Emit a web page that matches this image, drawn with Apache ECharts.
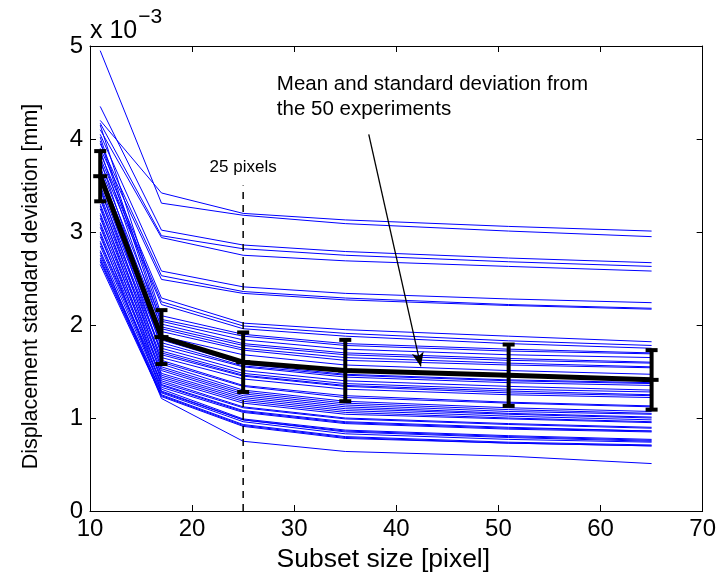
<!DOCTYPE html>
<html>
<head>
<meta charset="utf-8">
<script src="https://cdn.jsdelivr.net/npm/echarts@6/dist/echarts.min.js"></script>
<style>html,body{margin:0;padding:0;background:#fff}#c{width:719px;height:583px}</style>
</head>
<body>
<div id="c"></div>
<script>
// Subset sizes (pixels) at which each experiment was evaluated
const subsetSizes = [11, 17, 25, 35, 51, 65];
// Displacement standard deviation per experiment (units of 1e-3 mm), values at subsetSizes
const experiments = [
  [4.20, 3.42, 3.20, 3.13, 3.06, 3.01],
  [4.95, 3.31, 3.18, 3.09, 3.01, 2.95],
  [4.35, 3.02, 2.86, 2.79, 2.72, 2.67],
  [4.17, 2.96, 2.82, 2.75, 2.68, 2.63],
  [4.10, 2.94, 2.75, 2.69, 2.63, 2.58],
  [4.05, 2.58, 2.41, 2.34, 2.28, 2.24],
  [3.95, 2.53, 2.36, 2.29, 2.22, 2.18],
  [3.90, 2.49, 2.34, 2.27, 2.21, 2.17],
  [3.85, 2.29, 2.02, 1.95, 1.88, 1.82],
  [3.80, 2.25, 1.99, 1.91, 1.83, 1.78],
  [3.75, 2.22, 1.96, 1.88, 1.80, 1.75],
  [4.15, 2.10, 1.90, 1.80, 1.74, 1.70],
  [4.02, 2.06, 1.88, 1.78, 1.72, 1.69],
  [3.70, 2.04, 1.84, 1.74, 1.68, 1.65],
  [3.98, 2.01, 1.80, 1.70, 1.64, 1.60],
  [3.65, 1.98, 1.78, 1.68, 1.62, 1.59],
  [3.88, 1.96, 1.75, 1.65, 1.59, 1.55],
  [3.60, 1.93, 1.73, 1.62, 1.57, 1.54],
  [3.55, 1.88, 1.68, 1.57, 1.51, 1.47],
  [3.78, 1.84, 1.58, 1.47, 1.41, 1.38],
  [3.50, 1.81, 1.56, 1.46, 1.40, 1.37],
  [3.45, 1.78, 1.55, 1.44, 1.38, 1.35],
  [3.68, 1.75, 1.51, 1.40, 1.34, 1.30],
  [3.40, 1.72, 1.48, 1.37, 1.31, 1.28],
  [3.35, 1.70, 1.46, 1.35, 1.29, 1.25],
  [3.58, 1.68, 1.45, 1.34, 1.27, 1.24],
  [3.30, 1.65, 1.42, 1.31, 1.25, 1.22],
  [3.25, 1.62, 1.35, 1.24, 1.17, 1.13],
  [3.48, 1.60, 1.34, 1.22, 1.16, 1.12],
  [3.20, 1.58, 1.30, 1.18, 1.11, 1.07],
  [3.15, 1.55, 1.28, 1.16, 1.09, 1.05],
  [3.38, 1.53, 1.26, 1.14, 1.07, 1.04],
  [3.10, 1.51, 1.24, 1.12, 1.05, 1.01],
  [3.05, 1.48, 1.22, 1.10, 1.04, 1.00],
  [3.28, 1.46, 1.20, 1.08, 1.02, 0.98],
  [3.00, 1.44, 1.18, 1.06, 1.00, 0.96],
  [2.95, 1.42, 1.16, 1.04, 0.99, 0.95],
  [3.18, 1.40, 1.12, 1.00, 0.94, 0.90],
  [2.90, 1.38, 1.11, 0.99, 0.93, 0.89],
  [2.88, 1.36, 1.08, 0.96, 0.90, 0.86],
  [3.08, 1.35, 1.07, 0.95, 0.89, 0.86],
  [2.85, 1.33, 1.06, 0.94, 0.88, 0.85],
  [2.80, 1.31, 0.99, 0.87, 0.81, 0.77],
  [2.98, 1.29, 0.98, 0.86, 0.80, 0.76],
  [2.75, 1.28, 0.98, 0.85, 0.79, 0.75],
  [2.72, 1.27, 0.96, 0.83, 0.77, 0.74],
  [2.70, 1.25, 0.93, 0.80, 0.74, 0.71],
  [2.68, 1.24, 0.92, 0.79, 0.73, 0.70],
  [2.65, 1.23, 0.91, 0.78, 0.73, 0.70],
  [2.78, 1.21, 0.75, 0.64, 0.59, 0.51]
];
// Mean and standard deviation over the 50 experiments
const meanValues = [3.60, 1.87, 1.60, 1.51, 1.46, 1.41];
const stdValues  = [0.27, 0.29, 0.32, 0.33, 0.33, 0.32];
// Axis ranges / ticks
const xTicks = [10, 20, 30, 40, 50, 60, 70];
const yTicks = [0, 1, 2, 3, 4, 5];
// Annotations
const markerX = 25;          // dashed "25 pixels" line
const markerTop = 3.5;
const markerLabel = '25 pixels';
const noteLines = ['Mean and standard deviation from', 'the 50 experiments'];
const arrowFrom = [37.3, 4.05];
const arrowTo = [42.4, 1.555];
const noteAnchor = [28.3, 4.72];
const markerLabelAnchor = [25, 3.7];

const FONT = '"Liberation Sans", Arial, Helvetica, sans-serif';
const chart = echarts.init(document.getElementById('c'), null, {renderer: 'canvas'});

const series = [];
experiments.forEach((vals, i) => {
  series.push({
    type: 'line', name: 'exp' + (i + 1), xAxisIndex: 0, yAxisIndex: 0,
    data: subsetSizes.map((x, j) => [x, vals[j]]),
    showSymbol: false, symbol: 'none', silent: true, animation: false,
    lineStyle: {color: '#0000ff', width: 1}, z: 2
  });
});
// dashed marker line
series.push({
  type: 'line', name: 'marker', data: [[markerX, 0], [markerX, markerTop]],
  showSymbol: false, symbol: 'none', animation: false, silent: true,
  lineStyle: {color: '#000', width: 1.5, type: [7, 6]}, z: 3,
  markLine: {
    silent: true, animation: false, symbol: ['none', 'arrow'], symbolSize: [9, 14],
    lineStyle: {color: '#000', width: 1.3, type: 'solid'}, label: {show: false},
    data: [[{coord: arrowFrom}, {coord: arrowTo}]]
  }
});
// mean line
series.push({
  type: 'line', name: 'mean', data: subsetSizes.map((x, j) => [x, meanValues[j]]),
  showSymbol: false, symbol: 'none', animation: false, silent: true,
  lineStyle: {color: '#000', width: 5}, z: 5
});
// error bars
series.push({
  type: 'custom', name: 'err', animation: false, silent: true, z: 6,
  data: subsetSizes.map((x, j) => [x, meanValues[j], meanValues[j] - stdValues[j], meanValues[j] + stdValues[j]]),
  renderItem: function (params, api) {
    const x = api.value(0);
    const pm = api.coord([x, api.value(1)]);
    const pl = api.coord([x, api.value(2)]);
    const ph = api.coord([x, api.value(3)]);
    const hw = 6, st = {stroke: '#000', lineWidth: 4, fill: null};
    return {type: 'group', children: [
      {type: 'line', shape: {x1: pl[0], y1: pl[1], x2: ph[0], y2: ph[1]}, style: st},
      {type: 'line', shape: {x1: pl[0] - hw, y1: pl[1], x2: pl[0] + hw, y2: pl[1]}, style: st},
      {type: 'line', shape: {x1: ph[0] - hw, y1: ph[1], x2: ph[0] + hw, y2: ph[1]}, style: st},
      {type: 'line', shape: {x1: pm[0] - 7, y1: pm[1], x2: pm[0] + 7, y2: pm[1]}, style: st}
    ]};
  }
});

const axisCommon = {
  axisLine: {show: true, onZero: false, lineStyle: {color: '#000', width: 1}},
  axisTick: {show: true, inside: true, length: 6, lineStyle: {color: '#000', width: 1}},
  splitLine: {show: false}
};

chart.setOption({
  backgroundColor: '#fff',
  animation: false,
  grid: {left: 90, right: 13, top: 46, bottom: 72, containLabel: false},
  xAxis: [
    Object.assign({type: 'value', min: xTicks[0], max: xTicks[xTicks.length - 1], interval: 10,
      name: 'Subset size [pixel]', nameLocation: 'middle', nameGap: 32,
      nameTextStyle: {fontFamily: FONT, fontSize: 26.5, color: '#000', padding: [0, 26, 0, 0]},
      axisLabel: {fontFamily: FONT, fontSize: 24, color: '#000', margin: 6}}, axisCommon),
    Object.assign({type: 'value', position: 'top', min: xTicks[0], max: xTicks[xTicks.length - 1], interval: 10,
      axisLabel: {show: false}}, axisCommon)
  ],
  yAxis: [
    Object.assign({type: 'value', min: yTicks[0], max: yTicks[yTicks.length - 1], interval: 1,
      name: 'Displacement standard deviation [mm]', nameLocation: 'middle', nameGap: 48,
      nameTextStyle: {fontFamily: FONT, fontSize: 21.5, color: '#000', padding: [0, 16, 0, 0]},
      axisLabel: {fontFamily: FONT, fontSize: 24, color: '#000', margin: 7}}, axisCommon),
    Object.assign({type: 'value', position: 'right', min: yTicks[0], max: yTicks[yTicks.length - 1], interval: 1,
      axisLabel: {show: false}}, axisCommon)
  ],
  series: series
});

function placeGraphics() {
  const pNote = chart.convertToPixel({xAxisIndex: 0, yAxisIndex: 0}, noteAnchor);
  const pMark = chart.convertToPixel({xAxisIndex: 0, yAxisIndex: 0}, markerLabelAnchor);
  const pCorner = chart.convertToPixel({xAxisIndex: 0, yAxisIndex: 0}, [xTicks[0], yTicks[yTicks.length - 1]]);
  chart.setOption({graphic: [
    {type: 'text', left: pNote[0], top: pNote[1], silent: true,
      style: {text: noteLines.join('\n'), font: '20.5px ' + FONT, fill: '#000', lineHeight: 25}},
    {type: 'text', x: pMark[0], y: pMark[1], silent: true,
      style: {text: markerLabel, font: '17px ' + FONT, fill: '#000', align: 'center', verticalAlign: 'middle'}},
    {type: 'text', x: pCorner[0], y: pCorner[1] - 2, silent: true,
      style: {text: '{a|x 10}{b|−3}', verticalAlign: 'bottom', align: 'left',
        rich: {a: {font: '25px ' + FONT, fill: '#000', verticalAlign: 'bottom'},
               b: {font: '21px ' + FONT, fill: '#000', verticalAlign: 'top', padding: [0, 0, 16, 1]}}}}
  ]});
}
placeGraphics();
</script>
</body>
</html>
